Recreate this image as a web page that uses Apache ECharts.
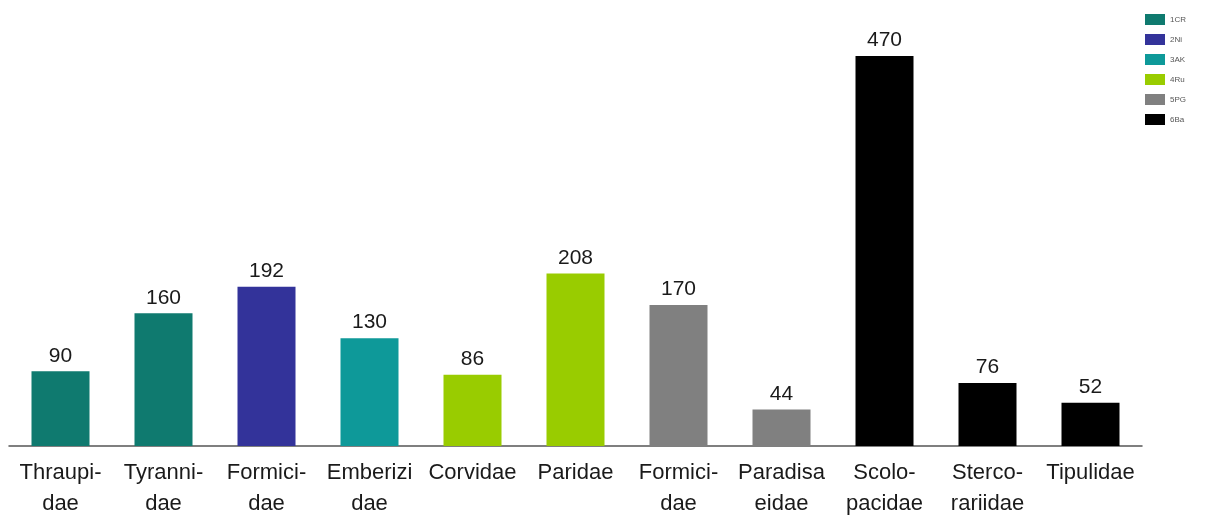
<!DOCTYPE html>
<html>
<head>
<meta charset="utf-8">
<script src="https://cdn.jsdelivr.net/npm/echarts@6/dist/echarts.min.js"></script>
<style>html,body{margin:0;padding:0;background:#fff}#c{width:1205px;height:515px}</style>
</head>
<body>
<div id="c"></div>
<script>
const categories = ["Thraupi-\ndae","Tyranni-\ndae","Formici-\ndae","Emberizi\ndae","Corvidae","Paridae","Formici-\ndae","Paradisa\neidae","Scolo-\npacidae","Sterco-\nrariidae","Tipulidae"];
const values = [90,160,192,130,86,208,170,44,470,76,52];
const groups = ["1CR","1CR","2Ni","3AK","4Ru","4Ru","5PG","5PG","6Ba","6Ba","6Ba"];
const seriesNames = ["1CR","2Ni","3AK","4Ru","5PG","6Ba"];
const seriesColors = ["#0f7a6f","#33339a","#0e9999","#99cc00","#808080","#000000"];

const series = seriesNames.map((name, si) => ({
  name: name,
  type: 'bar',
  stack: 'all',
  barWidth: 58,
  itemStyle: { color: seriesColors[si] },
  label: { show: true, position: 'top', distance: 5, color: '#1a1a1a', fontSize: 21, fontFamily: 'Liberation Sans, Arial' },
  data: values.map((v, i) => groups[i] === name ? v : '-')
}));

const chart = echarts.init(document.getElementById('c'), null, { renderer: 'canvas' });
chart.setOption({
  animation: false,
  backgroundColor: '#fff',
  grid: { left: 9, right: 63, top: 56, bottom: 69, containLabel: false, outerBoundsMode: 'none' },
  legend: {
    orient: 'vertical', right: 14, top: 9,
    itemWidth: 20, itemHeight: 11, itemGap: 9,
    icon: 'rect',
    textStyle: { fontSize: 8, color: '#555', fontFamily: 'Liberation Sans, Arial' },
    data: seriesNames
  },
  xAxis: {
    type: 'category', data: categories,
    axisLine: { lineStyle: { color: '#555', width: 1.5 } },
    axisTick: { show: false },
    axisLabel: { interval: 0, color: '#1a1a1a', fontSize: 22, lineHeight: 31, margin: 11, fontFamily: 'Liberation Sans, Arial' }
  },
  yAxis: { type: 'value', min: 0, max: 470, show: false, splitLine: { show: false } },
  series: series
});
</script>
</body>
</html>
